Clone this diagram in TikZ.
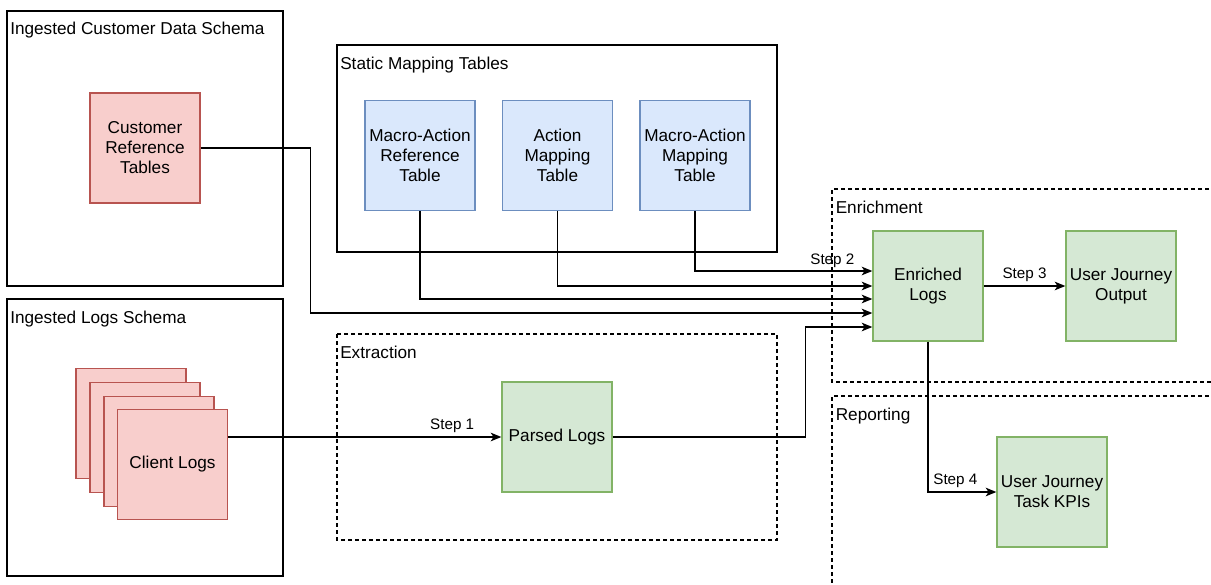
\documentclass[tikz,border=0pt]{standalone}
\usepackage{fontspec}
\setmainfont{Liberation Sans}
\usetikzlibrary{arrows.meta,calc}

\definecolor{redfill}{HTML}{F8CECC}
\definecolor{redline}{HTML}{B85450}
\definecolor{bluefill}{HTML}{DAE8FC}
\definecolor{blueline}{HTML}{6C8EBF}
\definecolor{greenfill}{HTML}{D5E8D4}
\definecolor{greenline}{HTML}{82B366}

\begin{document}
\begin{tikzpicture}[x=0.75pt,y=-0.75pt,
  font=\fontsize{12.9pt}{15pt}\selectfont,
  frame/.style={draw=black,line width=1pt},
  dframe/.style={draw=black,line width=1pt,dash pattern=on 3pt off 2.25pt},
  framelabel/.style={anchor=base west,inner sep=0pt},
  box/.style={draw,line width=1pt,minimum width=82.5pt,minimum height=82.5pt,
              align=center,inner sep=2pt},
  redbox/.style={box,draw=redline,fill=redfill},
  bluebox/.style={box,draw=blueline,fill=bluefill},
  greenbox/.style={box,draw=greenline,fill=greenfill},
  link/.style={draw=black,line width=1pt},
  arr/.style={link,-{Stealth[length=8pt,width=6.5pt,inset=2.2pt]}},
  steplbl/.style={font=\fontsize{11.4pt}{13pt}\selectfont,inner sep=0pt}
]
\useasboundingbox (0,0) rectangle (1211,585);
\clip (0,0) rectangle (1211,585);

% ---- container frames ----
\draw[frame] (7,11) rectangle (283,286);
\node[framelabel] (custlbl) at (10,35) {Ingested Customer Data Schema};

\draw[frame] (7,299) rectangle (283,576);
\node[framelabel] (logslbl) at (10,323.5) {Ingested Logs Schema};

\draw[frame] (337,45) rectangle (777,252);
\node[framelabel] (staticlbl) at (340,69.3) {Static Mapping Tables};

\draw[dframe] (337,334) rectangle (777,540);
\node[framelabel] (extrlbl) at (340,358) {Extraction};

\draw[dframe] (1230,189) -| (832,382) -- (1230,382);
\node[framelabel] (enrlbl) at (835.5,213.3) {Enrichment};

\draw[dframe] (1230,396) -| (832,600);
\node[framelabel] (replbl) at (835.5,420) {Reporting};

% ---- sources ----
\node[redbox] (crt) at (145,148) {Customer\\Reference\\Tables};

\node[redbox] (cl3) at (131,423.5) {};
\node[redbox] (cl2) at (145,437.5) {};
\node[redbox] (cl1) at (159,451.5) {};
\node[redbox] (cl)  at (172.5,464.5) {Client Logs};

\node[bluebox] (mart) at (420,155.5) {Macro-Action\\Reference\\Table};
\node[bluebox] (amt)  at (557.5,155.5) {Action\\Mapping\\Table};
\node[bluebox] (mamt) at (695,155.5) {Macro-Action\\Mapping\\Table};

% ---- processing stages ----
\node[greenbox] (pl)  at (557,437) {Parsed Logs};
\node[greenbox] (el)  at (928,286) {Enriched\\Logs};
\node[greenbox] (uo)  at (1121,286) {User Journey\\Output};
\node[greenbox] (kpi) at (1052,492) {User Journey\\Task KPIs};

% ---- connectors ----
\draw[arr] (cl.east |- pl.west) -- (pl.west)
  node[steplbl,pos=0.82,above=3pt] (s1) {Step 1};

\draw[arr] (mamt.south) |- ($(el.west)+(0,-15)$);
\draw[arr] (amt.south)  |- (el.west);
\draw[arr] (mart.south) |- ($(el.west)+(0,13)$);
\draw[arr] (crt.east) -- ++(110,0) |- ($(el.west)+(0,27)$);
\draw[arr] (pl.east) -- ++(193,0) |- ($(el.west)+(0,41)$);
\node[steplbl] (s2) at ($(el.west)+(-40,-25)$) {Step 2};

\draw[arr] (el.east) -- (uo.west)
  node[steplbl,midway,above=3pt] (s3) {Step 3};

\draw[arr] (el.south) |- (kpi.west)
  node[steplbl,pos=0.70,above=3pt] (s4) {Step 4};
\end{tikzpicture}
\end{document}
